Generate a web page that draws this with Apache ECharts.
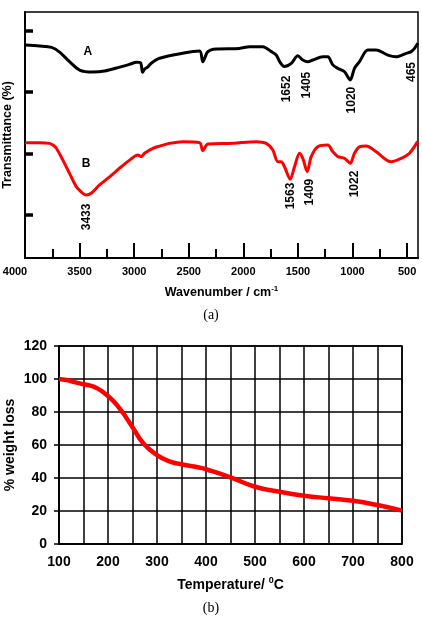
<!DOCTYPE html>
<html><head><meta charset="utf-8">
<script src="https://cdn.jsdelivr.net/npm/echarts@6/dist/echarts.min.js"></script>
<style>html,body{margin:0;padding:0;background:#fff}#c{width:422px;height:618px}</style>
</head><body><div id="c"></div>
<script>
// ---- FTIR (a) ----
const wnA = [4000,3866,3756,3683,3592,3500,3381,3271,3132,3042,2978,2941,2923,2904,2877,2841,2767,2557,2401,2371,2325,2248,2035,1943,1821,1744,1699,1660,1625,1561,1501,1455,1409,1363,1272,1226,1180,1134,1073,1021,982,936,860,783,677,600,508,462,432,402];
const tA  = [86.6,86.2,85.6,83.7,79.8,76.4,75.6,76.0,77.6,78.7,79.6,79.3,75.5,76.8,77.6,79.3,81.2,83.2,84.1,79.8,83.9,85.0,85.2,85.9,85.9,83.9,82.5,79.3,77.8,79.1,82.2,80.5,79.8,80.5,81.8,81.8,78.5,77.1,75.7,72.4,77.1,79.8,84.6,84.6,82.5,81.8,83.2,83.9,85.2,87.3];
const wnB = [4000,3866,3775,3744,3713,3653,3592,3530,3470,3439,3393,3317,3225,3134,3042,2966,2935,2905,2829,2767,2676,2554,2401,2371,2325,2096,1882,1790,1730,1684,1653,1623,1571,1531,1485,1455,1415,1378,1318,1226,1180,1134,1073,1021,982,936,874,783,646,554,478,404];
const tB  = [46.9,46.9,46.6,45.9,44.6,39.8,34.4,29.0,26.3,25.6,26.3,29.7,33.0,36.5,39.8,41.9,41.2,42.6,44.6,45.5,46.6,47.3,46.9,43.6,46.3,46.6,47.3,46.6,43.9,39.1,39.1,37.1,32.0,37.1,42.6,40.5,35.1,41.2,45.2,45.9,43.2,41.2,40.5,38.5,42.6,45.2,45.5,43.2,39.1,40.5,42.6,47.3];
const curveNames = ['A','B'];
const curveNameWn = [3424,3440];
const curveNameT = [84.0,38.2];
const peakLabels = ['1652','1405','1020','465','3433','1563','1409','1022'];
const peakWn = [1607,1417,1012,462,3436,1570,1394,981];
const peakT  = [68.7,70.3,64.2,75.6,16.7,25.2,26.8,30.1];
const ftirMajorTicks = [500,1000,1500,2000,2500,3000,3500,4000];
const ftirMinorTicks = [750,1250,1750,2250,2750,3250,3750];
const ftirYTicks = [17.5,42.5,67.5,92.5];

// ---- TGA (b) ----
const temps = [100,115,125,150,170,200,224,250,272,300,327,350,388,400,450,500,550,600,650,700,750,800];
const weightLoss = [100,99.4,98.6,96.8,95.4,89.7,82.0,70.8,61.0,53.9,49.9,48.3,46.2,45.3,40.4,34.7,31.7,29.3,27.7,26.2,23.6,20.2];

const F = "'Liberation Sans', Arial, sans-serif";
const chart = echarts.init(document.getElementById('c'), null, {renderer:'canvas'});
const zip = (a,b)=>a.map((v,i)=>[v,b[i]]);
const lblBase = {fontFamily:F,fontWeight:'bold',fontSize:11,color:'#000'};

chart.setOption({
  animation:false,
  backgroundColor:'#fff',
  grid:[
    {left:25,right:4,top:12,bottom:360,show:true,borderColor:'#000',borderWidth:1.5,backgroundColor:'#fff',containLabel:false,outerBoundsMode:'none'},
    {left:59,right:20,top:346,bottom:74,show:true,borderColor:'#000',borderWidth:1.5,containLabel:false,outerBoundsMode:'none'}
  ],
  xAxis:[
    {gridIndex:0,type:'value',inverse:true,min:400,max:4000,position:'bottom',
     axisLine:{show:true,onZero:false,lineStyle:{color:'#000',width:2}},
     axisTick:{show:true,inside:true,length:15,customValues:ftirMajorTicks,lineStyle:{color:'#000',width:2}},
     axisLabel:Object.assign({show:true,customValues:ftirMajorTicks,margin:8,
       formatter:v=>(Number(v)>=3999?'{l|'+Number(v)+'}':String(v)),
       rich:{l:Object.assign({padding:[0,20,0,0]},lblBase)}},lblBase),
     splitLine:{show:false},
     name:'{a|Wavenumber / cm}{s|-1}',nameLocation:'middle',nameGap:27,nameMoveOverlap:false,
     nameTextStyle:{color:'#000',rich:{a:{fontFamily:F,fontWeight:'bold',fontSize:12.5,color:'#000',lineHeight:16},s:{fontFamily:F,fontWeight:'bold',fontSize:8,color:'#000',verticalAlign:'top',lineHeight:16}}}
    },
    {gridIndex:0,type:'value',inverse:true,min:400,max:4000,position:'bottom',
     axisLine:{show:false,onZero:false},
     axisTick:{show:true,inside:true,length:9,customValues:ftirMinorTicks,lineStyle:{color:'#000',width:2}},
     axisLabel:{show:false},splitLine:{show:false}
    },
    {gridIndex:1,type:'value',min:100,max:800,interval:50,
     axisLine:{show:true,onZero:false,lineStyle:{color:'#000',width:1.5}},
     axisTick:{show:false},
     axisLabel:{color:'#000',fontFamily:F,fontWeight:'bold',fontSize:14,margin:11,formatter:v=>(v%100===0?String(v):'')},
     splitLine:{show:true,lineStyle:{color:'#000',width:1.5}},
     name:'{a|Temperature/ }{s|0}{a|C}',nameLocation:'middle',nameGap:32,nameMoveOverlap:false,
     nameTextStyle:{color:'#000',rich:{a:{fontFamily:F,fontWeight:'bold',fontSize:14,color:'#000',lineHeight:18},s:{fontFamily:F,fontWeight:'bold',fontSize:9,color:'#000',verticalAlign:'top',lineHeight:18}}}
    }
  ],
  yAxis:[
    {gridIndex:0,type:'value',min:0,max:100,
     axisLine:{show:true,onZero:false,lineStyle:{color:'#000',width:2}},
     axisTick:{show:true,inside:true,length:8,customValues:ftirYTicks,lineStyle:{color:'#000',width:3.5}},
     axisLabel:{show:false},splitLine:{show:false},
     name:'Transmittance (%)',nameLocation:'middle',nameGap:11,nameMoveOverlap:false,
     nameTextStyle:{color:'#000',fontFamily:F,fontWeight:'bold',fontSize:12.5}
    },
    {gridIndex:1,type:'value',min:0,max:120,interval:20,
     axisLine:{show:true,onZero:false,lineStyle:{color:'#000',width:1.5}},
     axisTick:{show:true,inside:false,length:5,lineStyle:{color:'#000',width:1.5}},
     axisLabel:{color:'#000',fontFamily:F,fontWeight:'bold',fontSize:14,margin:12},
     splitLine:{show:true,lineStyle:{color:'#000',width:1.5}},
     name:'% weight loss',nameLocation:'middle',nameGap:42,nameMoveOverlap:false,
     nameTextStyle:{color:'#000',fontFamily:F,fontWeight:'bold',fontSize:14}
    }
  ],
  series:[
    {type:'line',xAxisIndex:0,yAxisIndex:0,data:zip(wnA,tA),symbol:'none',smooth:0.3,
     lineStyle:{color:'#000',width:3}},
    {type:'line',xAxisIndex:0,yAxisIndex:0,data:zip(wnB,tB),symbol:'none',smooth:0.3,
     lineStyle:{color:'#ff0000',width:3}},
    {type:'scatter',xAxisIndex:0,yAxisIndex:0,symbol:'circle',symbolSize:0,itemStyle:{color:'#000'},
     data:curveNames.map((n,i)=>({value:[curveNameWn[i],curveNameT[i]],name:n})),
     label:{show:true,position:'inside',formatter:p=>p.name,color:'#000',opacity:1,textBorderWidth:0,fontFamily:F,fontWeight:'bold',fontSize:12}},
    {type:'scatter',xAxisIndex:0,yAxisIndex:0,symbol:'circle',symbolSize:0,itemStyle:{color:'#000'},
     data:peakLabels.map((n,i)=>({value:[peakWn[i],peakT[i]],name:n})),
     label:{show:true,position:'inside',rotate:90,formatter:p=>p.name,color:'#000',opacity:1,textBorderWidth:0,fontFamily:F,fontSize:12,fontWeight:'bold'}},
    {type:'line',xAxisIndex:2,yAxisIndex:1,data:zip(temps,weightLoss),symbol:'none',smooth:0.5,
     lineStyle:{color:'#ff0000',width:4.5}}
  ],
  graphic:[
    {type:'text',left:'center',top:308,style:{text:'(a)',fontFamily:"'Liberation Serif', 'Times New Roman', serif",fontSize:14,fill:'#000'}},
    {type:'text',left:'center',top:601,style:{text:'(b)',fontFamily:"'Liberation Serif', 'Times New Roman', serif",fontSize:14,fill:'#000'}}
  ]
});
</script></body></html>
